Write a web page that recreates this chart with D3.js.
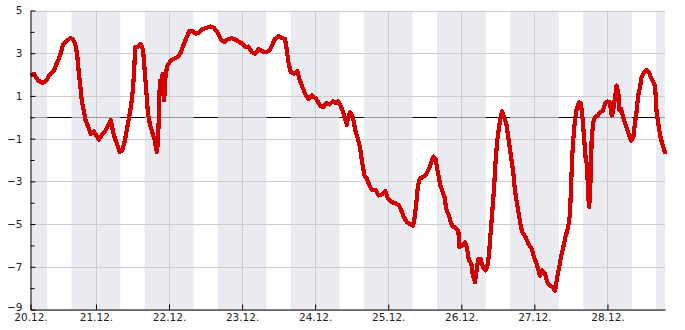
<!DOCTYPE html>
<html>
<head>
<meta charset="utf-8">
<script src="https://cdn.jsdelivr.net/npm/d3@7"></script>
<style>
body { margin: 0; background: #fff; }
.axis text { font-family: "DejaVu Sans", sans-serif; font-size: 10.5px; fill: #222; }
.axis path, .axis line { stroke: #000; }
</style>
</head>
<body>
<svg id="chart" width="685" height="330"></svg>
<script>
// hours since 20.12. 00:00
var hours = [2.5,3.6,5.0,6.6,7.7,8.8,10.2,11.3,12.3,13.2,14.3,15.6,16.5,17.2,17.8,18.3,18.9,19.4,20.1,20.6,
  21.4,22.3,23.3,24.1,24.9,25.8,26.9,28.0,28.9,29.3,29.9,30.7,31.8,32.6,33.5,34.3,35.1,35.9,36.5,36.9,
  37.6,38.7,39.5,40.0,40.6,41.1,41.8,42.5,43.3,44.0,44.4,45.0,45.5,45.9,46.4,46.9,47.5,48.6,49.7,51.0,
  51.9,52.7,53.7,54.6,55.7,56.8,57.9,59.0,60.1,61.5,62.8,63.9,65.0,66.1,67.2,68.5,69.9,71.6,72.4,73.3,
  74.1,75.2,76.3,77.4,78.5,79.9,81.0,81.8,82.8,83.9,85.0,86.1,86.7,87.2,88.0,89.1,90.2,90.8,91.6,92.7,
  93.8,94.9,96.3,97.6,98.7,99.6,100.7,101.8,102.9,103.6,104.8,105.5,106.4,106.7,107.5,108.4,109.2,110.0,110.8,111.4,
  112.2,113.0,113.8,114.7,115.8,116.9,118.0,119.1,119.9,121.0,122.4,123.5,124.3,125.0,126.1,127.2,128.1,128.6,129.2,129.7,
  130.3,131.4,132.5,133.4,134.1,134.9,135.5,136.3,137.1,137.7,138.5,139.0,139.9,140.7,141.4,142.1,143.0,143.4,144.3,145.2,
  145.8,146.5,147.3,147.8,148.5,149.0,149.6,150.3,151.1,152.0,152.6,153.1,153.6,154.2,154.7,155.2,155.8,156.4,156.9,157.4,
  158.0,158.8,159.4,160.2,161.0,161.6,162.4,163.3,164.0,165.1,166.0,167.1,167.9,168.9,169.8,170.6,171.5,172.2,173.1,173.9,
  174.8,175.5,176.3,176.7,177.5,178.2,179.1,179.7,180.0,180.4,180.8,181.3,181.9,182.7,183.3,183.8,184.4,184.8,185.3,185.7,
  186.0,186.5,186.8,187.3,187.9,188.8,189.6,190.4,191.2,192.0,192.8,193.4,193.9,194.5,195.0,195.6,195.9,196.4,197.2,198.0,
  198.8,199.7,200.5,201.0,201.6,202.1,202.7,203.2,204.0,204.9,205.6,206.5,207.4,207.8,208.1,208.7,209.3,210.0,210.7,210.9];

var temps = [1.96,2.04,1.72,1.61,1.72,2.0,2.19,2.58,2.93,3.41,3.56,3.72,3.64,3.41,2.97,2.19,1.41,0.71,0.24,-0.15,
  -0.43,-0.77,-0.65,-0.85,-1.05,-0.85,-0.70,-0.38,-0.12,-0.46,-0.85,-1.17,-1.63,-1.55,-1.09,-0.46,0.16,0.94,2.04,3.28,
  3.28,3.44,3.13,2.19,1.10,0.16,-0.38,-0.70,-1.09,-1.63,-1.09,1.72,1.10,2.04,0.79,2.04,2.43,2.66,2.74,2.85,
  3.05,3.36,3.72,4.02,4.03,3.91,3.96,4.14,4.17,4.25,4.19,3.98,3.67,3.52,3.64,3.70,3.63,3.48,3.41,3.28,
  3.31,3.05,2.97,3.21,3.09,3.05,3.13,3.36,3.67,3.80,3.72,3.67,3.13,2.58,2.11,2.04,2.16,1.80,1.49,1.10,
  0.87,1.02,0.87,0.55,0.47,0.66,0.60,0.75,0.66,0.75,0.40,0.08,-0.35,-0.07,0.24,0.0,-0.62,-1.01,-1.47,-2.10,
  -2.72,-2.88,-3.19,-3.40,-3.40,-3.66,-3.61,-3.46,-3.82,-3.97,-4.02,-4.13,-4.36,-4.64,-4.91,-5.02,-5.07,-4.75,-4.05,-3.27,
  -2.88,-2.80,-2.65,-2.41,-2.10,-1.84,-1.94,-2.57,-3.19,-3.43,-3.74,-4.28,-4.60,-4.99,-5.14,-5.17,-5.30,-6.08,-6.00,-5.85,
  -6.08,-6.70,-6.86,-7.41,-7.72,-7.17,-6.62,-6.62,-7.02,-7.17,-6.94,-6.39,-5.45,-4.36,-3.43,-2.18,-1.09,-0.46,0.0,0.29,
  0.0,-0.30,-0.93,-1.71,-2.49,-3.43,-4.13,-4.91,-5.38,-5.61,-5.92,-6.16,-6.55,-6.94,-7.41,-7.17,-7.33,-7.72,-7.87,-7.95,
  -8.11,-7.49,-6.9,-6.55,-6.08,-5.61,-5.14,-4.52,-3.43,-1.87,-1.01,-0.15,0.40,0.71,0.63,0.0,-1.09,-1.87,-2.26,-3.74,
  -4.21,-2.80,-1.09,-0.23,0.0,0.08,0.24,0.29,0.63,0.74,0.71,0.08,0.32,0.94,1.49,1.10,0.32,0.40,0.0,-0.38,
  -0.70,-1.09,-0.93,-0.30,0.32,1.02,1.41,1.88,2.11,2.22,2.11,1.80,1.57,1.10,0.32,-0.30,-0.85,-1.24,-1.55,-1.71];

var yLabels = [5, 3, 1, -1, -3, -5, -7, -9];
var yMinor = [4, 2, 0, -2, -4, -6, -8];
var dayTicks = [24, 48, 72, 96, 120, 144, 168, 192];
var hourRange = [2.5, 210.9];
var daylight = [8, 16];   // white part of each day, hours

var base = new Date(2012, 11, 20);
function toDate(h) { return new Date(base.getTime() + h * 3600e3); }

var svg = d3.select("#chart"),
    margin = {top: 10.5, right: 20, bottom: 20.5, left: 30.5},
    width = +svg.attr("width") - margin.right,
    height = +svg.attr("height") - margin.bottom;

var x = d3.scaleTime().domain(hourRange.map(toDate)).range([margin.left, width]);
var y = d3.scaleLinear().domain([-9, 5]).range([height, margin.top]);

var data = hours.map(function(h, i) { return {date: toDate(h), temp: temps[i]}; });

// night bands
var bands = [];
for (var k = 0; k <= 9; k++) {
  var s = Math.max((k - 1) * 24 + daylight[1], hourRange[0]),
      e = Math.min(k * 24 + daylight[0], hourRange[1]);
  if (e > s) bands.push([s, e]);
}
svg.append("g").selectAll("rect")
  .data(bands)
  .enter().append("rect")
    .attr("x", function(d) { return x(toDate(d[0])); })
    .attr("width", function(d) { return x(toDate(d[1])) - x(toDate(d[0])); })
    .attr("y", margin.top)
    .attr("height", height - margin.top)
    .attr("fill", "#eaebf1");

// grid
var grid = svg.append("g").attr("stroke", "#cdcdcd").attr("shape-rendering", "crispEdges");
grid.selectAll(".h").data(yLabels).enter().append("line")
  .attr("x1", margin.left).attr("x2", width)
  .attr("y1", function(d) { return Math.round(y(d)) + 0.5; })
  .attr("y2", function(d) { return Math.round(y(d)) + 0.5; });
grid.selectAll(".v").data(dayTicks).enter().append("line")
  .attr("y1", margin.top).attr("y2", height)
  .attr("x1", function(d) { return Math.round(x(toDate(d))) + 0.5; })
  .attr("x2", function(d) { return Math.round(x(toDate(d))) + 0.5; });

// zero line: grey over the bands, black in daytime
var y0 = Math.round(y(0)) + 0.5;
svg.append("line")
  .attr("x1", margin.left).attr("x2", width)
  .attr("y1", y0).attr("y2", y0)
  .attr("stroke", "#999");
var days = [];
for (var j = 0; j <= 8; j++) days.push([j * 24 + daylight[0], j * 24 + daylight[1]]);
svg.append("g").selectAll("line")
  .data(days)
  .enter().append("line")
    .attr("x1", function(d) { return x(toDate(d[0])); })
    .attr("x2", function(d) { return x(toDate(d[1])); })
    .attr("y1", y0).attr("y2", y0)
    .attr("stroke", "#000");

// temperature line
var line = d3.line()
  .x(function(d) { return x(d.date); })
  .y(function(d) { return y(d.temp); });

svg.append("path")
  .datum(data)
  .attr("fill", "none")
  .attr("stroke", "#d40000")
  .attr("stroke-width", 4.2)
  .attr("stroke-linejoin", "round")
  .attr("shape-rendering", "crispEdges")
  .attr("d", line);

// axes
svg.append("g")
  .attr("class", "axis")
  .attr("transform", "translate(" + margin.left + ",0)")
  .call(d3.axisLeft(y).tickValues(yLabels).tickSizeInner(-5).tickSizeOuter(0).tickPadding(8).tickFormat(d3.format("d")));

svg.append("g")
  .attr("class", "axis")
  .attr("transform", "translate(" + margin.left + ",0)")
  .call(d3.axisLeft(y).tickValues(yMinor).tickSizeInner(-4).tickSizeOuter(0).tickFormat(""))
  .select(".domain").remove();

svg.append("g")
  .attr("class", "axis")
  .attr("transform", "translate(0," + height + ")")
  .call(d3.axisBottom(x)
    .tickValues([hourRange[0]].concat(dayTicks).map(toDate))
    .tickSizeInner(-5).tickSizeOuter(0).tickPadding(4)
    .tickFormat(d3.timeFormat("%d.%m.")));

svg.selectAll(".axis text").attr("fill", "#222");
svg.selectAll(".axis .tick text").filter(function(d) { return d === -9; }).attr("dy", "0.1em");
</script>
</body>
</html>
